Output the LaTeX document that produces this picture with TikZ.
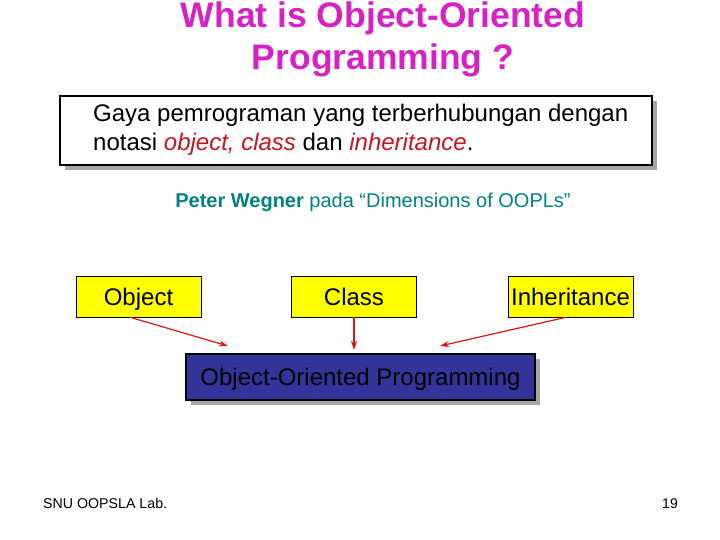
\documentclass[tikz,border=0pt]{standalone}
\usepackage{fontspec}
\setmainfont{Liberation Sans}
\usetikzlibrary{shapes,arrows.meta,positioning,shadows}
\definecolor{titlepink}{RGB}{214,34,196}
\definecolor{teal}{RGB}{0,128,128}
\definecolor{wordred}{RGB}{200,20,30}
\definecolor{boxyellow}{RGB}{255,255,0}
\definecolor{oopblue}{RGB}{51,51,153}
\definecolor{linered}{RGB}{220,20,20}
\def\Oop{Object-Oriented Programming}

\begin{document}
\begin{tikzpicture}[x=1pt,y=-1pt,% styles for the whole slide
			every node/.style={
				align=center,  		% so that "\\" breaks lines
				inner sep=0pt
			},
			concept/.style={rectangle,draw=black,thick,fill=boxyellow,
				minimum width=125pt,minimum height=41pt,text height=17pt,text depth=0pt,
				font=\fontsize{24}{28}\selectfont},
			shadowbox/.style={rectangle,draw=black,line width=1.5pt,
				drop shadow={shadow xshift=5pt,shadow yshift=-5pt,fill=gray!70,opacity=1}},
			every edge/.style={draw,linered,line width=1.2pt,-{Stealth[length=9pt,width=6pt]}}
		]
		\useasboundingbox (0,0) rectangle (720,540);
		% title
		\node[font=\bfseries\fontsize{35.5}{42}\selectfont,text=titlepink](T)at(383,39){What is Object-Oriented\\Programming ?};
		% definition
		\node[shadowbox,fill=white,minimum width=592pt,minimum height=69pt](D)at(356,130.5){};
		\node[align=left,anchor=west,font=\fontsize{24}{29}\selectfont](DT)at(93,130){Gaya pemrograman yang terberhubungan dengan\\notasi \textcolor{wordred}{\itshape object, class} dan \textcolor{wordred}{\itshape inheritance}.};
		\node[font=\fontsize{20}{24}\selectfont,text=teal](W)at(373,202){\textbf{Peter Wegner} pada “Dimensions of OOPLs”};
		% the three concepts
		\node[concept](R1)at(138.5,296.5){Object};
		\node[concept](R2)at(354,296.5){Class};
		\node[concept](R3)at(570.5,296.5){Inheritance};
		\node[shadowbox,fill=oopblue,minimum width=349pt,minimum height=46pt,text height=17pt,text depth=0pt,
			font=\fontsize{24}{28}\selectfont](R4)at(360.5,377){\Oop};
		\coordinate(E1)at(228,346);
		\coordinate(E2)at(354,350);
		\coordinate(E3)at(440,346);
		\path
		([xshift=-8pt]R1.south)edge (E1)
		(R2.south)edge (E2)
		([xshift=-5pt]R3.south)edge (E3)
		;
		% footer
		\node[anchor=base west,font=\fontsize{14.2}{16}\selectfont](F1)at(43,508){SNU OOPSLA Lab.};
		\node[anchor=base,font=\fontsize{14}{16}\selectfont](F2)at(670,508){19};
	\end{tikzpicture}
\end{document}
